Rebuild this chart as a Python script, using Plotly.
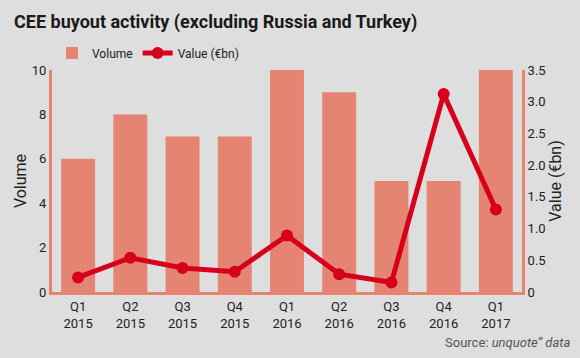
import plotly.graph_objects as go

quarters = ["Q1<br>2015", "Q2<br>2015", "Q3<br>2015", "Q4<br>2015", "Q1<br>2016",
            "Q2<br>2016", "Q3<br>2016", "Q4<br>2016", "Q1<br>2017"]
volume = [6, 8, 7, 7, 10, 9, 5, 5, 10]
value_bn = [0.23, 0.54, 0.38, 0.32, 0.89, 0.28, 0.15, 3.12, 1.30]

BAR = "#e58472"
RED = "#d6001c"
BG = "#dedede"
TXT = "#222222"
AX = "#e8836f"

fig = go.Figure()
fig.add_trace(go.Bar(x=list(range(len(quarters))), y=volume, name="Volume",
                     marker=dict(color=BAR, line=dict(width=0)), yaxis="y"))
fig.add_trace(go.Scatter(x=list(range(len(quarters))), y=value_bn, name="Value (€bn)",
                         mode="lines+markers", yaxis="y2",
                         line=dict(color=RED, width=5),
                         marker=dict(color=RED, size=12)))

font_main = "Roboto, Liberation Sans, sans-serif"

fig.update_layout(
    width=580, height=358,
    paper_bgcolor=BG, plot_bgcolor=BG,
    margin=dict(l=52, r=58, t=70, b=66, autoexpand=False),
    bargap=0.35,
    showlegend=True,
    legend=dict(orientation="h", x=0.0, xanchor="left", y=1.077, yanchor="middle",
                font=dict(family=font_main, size=12, color=TXT),
                bgcolor="rgba(0,0,0,0)", itemwidth=30, traceorder="normal"),
    font=dict(family=font_main, color=TXT, size=12),
    xaxis=dict(tickmode="array", tickvals=list(range(len(quarters))), ticktext=quarters,
               range=[-0.5, 8.5], showline=True, linecolor=AX, linewidth=3,
               showgrid=False, zeroline=False, ticks="", automargin=False,
               tickfont=dict(size=13, color=TXT)),
    yaxis=dict(range=[0, 10], tickvals=[0, 2, 4, 6, 8, 10], showline=True, linecolor=AX,
               linewidth=3, showgrid=False, zeroline=False, ticks="", automargin=False,
               title=dict(text="Volume", font=dict(size=16, color=TXT), standoff=2),
               tickfont=dict(size=13, color=TXT)),
    yaxis2=dict(range=[0, 3.5], tickvals=[0, 0.5, 1, 1.5, 2, 2.5, 3, 3.5],
                ticktext=["0", "0.5", "1.0", "1.5", "2.0", "2.5", "3.0", "3.5"],
                overlaying="y", side="right", showline=True, linecolor=AX, linewidth=3,
                showgrid=False, zeroline=False, ticks="", automargin=False,
                title=dict(text="Value (€bn)", font=dict(size=16, color=TXT), standoff=6),
                tickfont=dict(size=13, color=TXT)),
)

fig.add_annotation(text="<b>CEE buyout activity (excluding Russia and Turkey)</b>",
                   xref="paper", yref="paper", x=-0.085, y=1.0, xanchor="left", yanchor="middle",
                   yshift=48, showarrow=False,
                   font=dict(family=font_main, size=18, color="#1a1a1a"))
fig.add_annotation(text="Source: <i>unquote\u201d data</i>",
                   xref="paper", yref="paper", x=1.106, y=0, xanchor="right", yanchor="middle",
                   yshift=-50, showarrow=False,
                   font=dict(family=font_main, size=13, color="#555555"))

fig.write_html("out.html", config={"displayModeBar": False},
               post_script="document.body.style.margin='0';document.body.style.background='#dedede';")
